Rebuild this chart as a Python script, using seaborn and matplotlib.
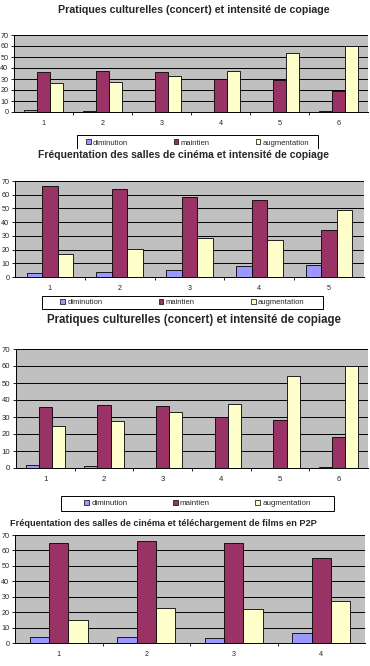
import pandas as pd
import matplotlib.pyplot as plt
import seaborn as sns
from matplotlib.patches import Patch, Rectangle

sns.set_theme(style="white")
plt.rcParams['font.family'] = ['Liberation Sans', 'DejaVu Sans']

# séries
series = ['diminution', 'maintien', 'augmentation']
couleurs = {'diminution': '#9999FF', 'maintien': '#993366', 'augmentation': '#FFFFCC'}

# 1 - pratiques culturelles (concert)
titre1 = 'Pratiques culturelles (concert) et intensité de copiage'
cat1 = ['1', '2', '3', '4', '5', '6']
dim1 = [1.5, 0.5, 0, 0, 0, 0.5]
main1 = [36, 37, 36, 30, 29, 19]
aug1 = [26, 27.5, 33, 37, 54, 60]

# 2 - cinéma et copiage
titre2 = 'Fréquentation des salles de cinéma et intensité de copiage'
cat2 = ['1', '2', '3', '4', '5']
dim2 = [3, 3.5, 5, 8, 9]
main2 = [66, 64.5, 58.5, 56.5, 34.5]
aug2 = [17, 20.5, 28.5, 27, 49]

# 3 - pratiques culturelles (concert), 2e version
titre3 = 'Pratiques culturelles (concert) et intensité de copiage'
cat3 = ['1', '2', '3', '4', '5', '6']
dim3 = [1.5, 1, 0, 0, 0, 0.5]
main3 = [36, 37, 36.5, 30, 28, 18.5]
aug3 = [25, 27.5, 33, 37.5, 54, 60]

# 4 - cinéma et P2P
titre4 = 'Fréquentation des salles de cinéma et téléchargement de films en P2P'
cat4 = ['1', '2', '3', '4']
dim4 = [4, 4, 3.5, 6.5]
main4 = [65, 66, 64.5, 55]
aug4 = [15, 23, 22, 27]

W, H = 370, 666
fig = plt.figure(figsize=(W / 100, H / 100), dpi=100)


def fx(x):
    return x / W


def fy(y):
    return 1 - y / H


def panneau(cats, dim, main, aug, box, tick_fs=5.2):
    l, t, r, b = box
    ax = fig.add_axes([fx(l), fy(b), fx(r - l), (b - t) / H])
    df = pd.DataFrame({'cat': cats * 3,
                       'serie': [s for s in series for _ in cats],
                       'val': dim + main + aug})
    sns.barplot(data=df, x='cat', y='val', hue='serie', order=cats,
                hue_order=series, palette=couleurs, saturation=1,
                width=0.667, edgecolor='black', linewidth=0.6,
                legend=False, ax=ax, zorder=3)
    ax.set_facecolor('#C0C0C0')
    ax.set_xlim(-0.5, len(cats) - 0.5)
    ax.set_ylim(0, 70)
    ax.set_yticks(range(0, 71, 10))
    ax.yaxis.grid(True, color='black', linewidth=0.7, zorder=1)
    ax.set_axisbelow(True)
    ax.set_xlabel('')
    ax.set_ylabel('')
    for s in ['top', 'right']:
        ax.spines[s].set_visible(False)
    for s in ['left', 'bottom']:
        ax.spines[s].set_color('black')
        ax.spines[s].set_linewidth(0.7)
    ax.set_xticks([i + 0.5 for i in range(len(cats) - 1)], minor=True)
    ax.tick_params(axis='x', which='major', length=0, pad=6, labelsize=tick_fs)
    ax.tick_params(axis='x', which='minor', direction='out', length=2.5,
                   width=0.6, color='black', bottom=True)
    ax.tick_params(axis='y', direction='out', length=2, width=0.6,
                   color='black', pad=2, labelsize=tick_fs, left=True)
    return ax


def legende(x0, y0, x1, y1, espace, fs=5.5):
    # cadre façon Excel, entrées centrées dedans
    fig.patches.append(Rectangle((fx(x0), fy(y1)), fx(x1 - x0), (y1 - y0) / H,
                                 transform=fig.transFigure, facecolor='white',
                                 edgecolor='black', linewidth=0.7, zorder=4))
    handles = [Patch(facecolor=couleurs[s], edgecolor='black', linewidth=0.5)
               for s in series]
    fig.legend(handles, series, loc='center', ncol=3,
               bbox_to_anchor=(fx((x0 + x1) / 2), fy((y0 + y1) / 2)),
               fontsize=fs, frameon=False, handlelength=0.6, handleheight=0.6,
               handletextpad=0.3, columnspacing=espace, borderpad=0)


panneau(cat1, dim1, main1, aug1, (14, 35, 368, 112))
legende(77, 135, 318, 151, 6.0)
fig.text(fx(194), fy(10), titre1, ha='center', va='center',
         fontsize=7.7, fontweight='bold')

# bas de la légende 1 coupé par le panneau suivant
fig.patches.append(Rectangle((0, fy(172)), 1, fy(149) - fy(172),
                             transform=fig.transFigure, facecolor='white',
                             edgecolor='none', zorder=10))

panneau(cat2, dim2, main2, aug2, (15, 181, 364, 277))
legende(42, 296, 323, 309, 7.4)
fig.text(fx(183), fy(155), titre2, ha='center', va='center',
         fontsize=7.5, fontweight='bold', zorder=11)

panneau(cat3, dim3, main3, aug3, (16, 349, 368, 468), tick_fs=5.6)
legende(61, 496, 334, 511, 5.6, fs=5.8)
fig.text(fx(194), fy(320), titre3, ha='center', va='center',
         fontsize=8.3, fontweight='bold')

panneau(cat4, dim4, main4, aug4, (15, 535, 365, 643))
fig.text(fx(10), fy(524), titre4, ha='left', va='center',
         fontsize=6.6, fontweight='bold')

fig.savefig('out.png', dpi=100)
